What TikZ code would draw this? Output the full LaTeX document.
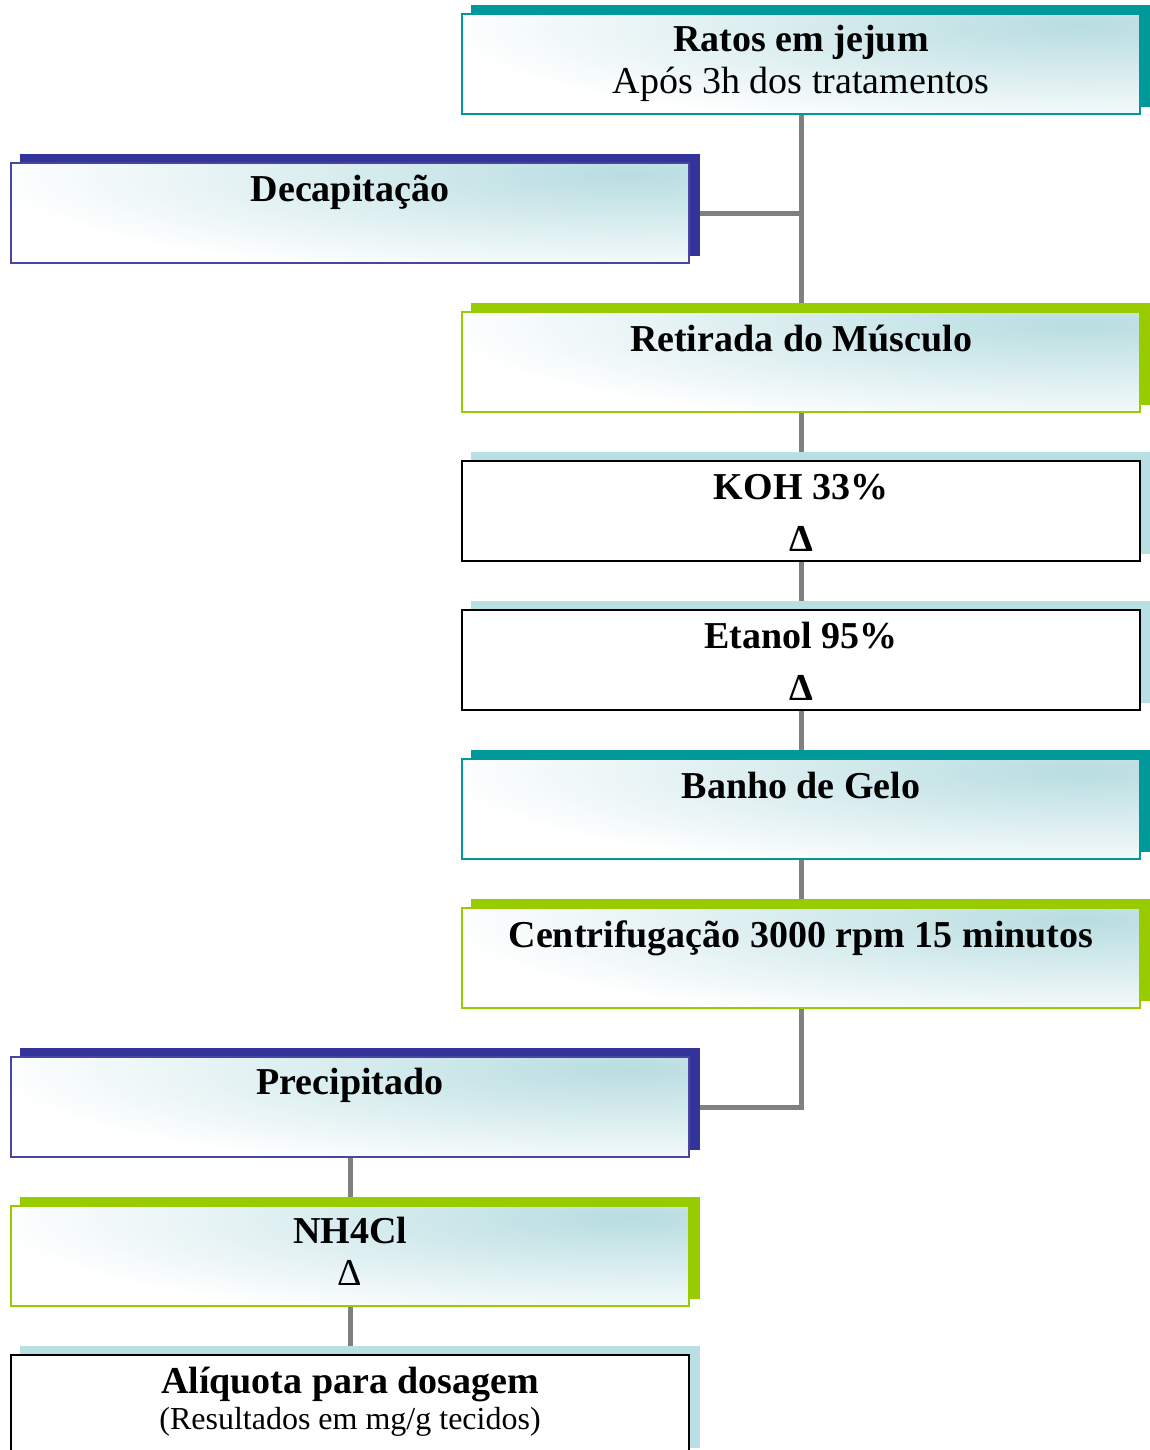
\documentclass[tikz,border=0pt]{standalone}
\usepackage{fontspec}
\setmainfont{Liberation Serif}
\pgfdeclarelayer{bg}
\pgfdeclarelayer{shadowlayer}
\pgfsetlayers{bg,shadowlayer,main}
\definecolor{tealc}{HTML}{009999}
\definecolor{navyc}{HTML}{333399}
\definecolor{greenc}{HTML}{99CC00}
\definecolor{lblue}{HTML}{B8DFE3}
\definecolor{gradc}{HTML}{B8DDE1}
\definecolor{linec}{HTML}{808080}
\tikzset{
  box/.style={minimum width=678pt, minimum height=100pt, inner sep=0pt, line width=1.5pt, fill=white},
  gbox/.style={box, path picture={\shade[inner color=gradc, outer color=white] ([xshift=-60pt,yshift=-12pt]path picture bounding box.north east) ellipse [x radius=640pt, y radius=105pt];}},
  conn/.style={draw=linec, line width=5pt},
  ttl/.style={anchor=base, font=\fontsize{38}{44}\selectfont\bfseries, inner sep=0pt},
  sub/.style={anchor=base, font=\fontsize{38}{44}\selectfont, inner sep=0pt},
  subs/.style={anchor=base, font=\fontsize{32}{36}\selectfont, inner sep=0pt},
}
\newcommand\mkshadow[2]{\fill[#2] ([shift={(10pt,8pt)}]#1.south west) rectangle ([shift={(10pt,8pt)}]#1.north east);}
\begin{document}
\begin{tikzpicture}[x=1pt,y=-1pt]
\useasboundingbox (0,0) rectangle (1149,1450);
% boxes
\node[gbox, draw=tealc]  (ratos)   at (801,64)   {};
\node[gbox, draw=navyc!90] (decap) at (350,213)  {};
\node[gbox, draw=greenc] (retir)   at (801,362)  {};
\node[box,  draw=black]  (koh)     at (801,511)  {};
\node[box,  draw=black]  (etanol)  at (801,660)  {};
\node[gbox, draw=tealc]  (banho)   at (801,809)  {};
\node[gbox, draw=greenc] (centrif) at (801,958)  {};
\node[gbox, draw=navyc!90] (precip) at (350,1107) {};
\node[gbox, draw=greenc] (nh4cl)   at (350,1256) {};
\node[box,  draw=black]  (aliq)    at (350,1405) {};
% shadows
\begin{pgfonlayer}{shadowlayer}
\mkshadow{ratos}{tealc}
\mkshadow{decap}{navyc}
\mkshadow{retir}{greenc}
\mkshadow{koh}{lblue}
\mkshadow{etanol}{lblue}
\mkshadow{banho}{tealc}
\mkshadow{centrif}{greenc}
\mkshadow{precip}{navyc}
\mkshadow{nh4cl}{greenc}
\mkshadow{aliq}{lblue}
\end{pgfonlayer}
% connectors
\begin{pgfonlayer}{bg}
\draw[conn] (ratos.south) -- (retir.north);
\draw[conn] ([xshift=10pt]decap.east) -- (decap.east -| ratos.south);
\draw[conn] (retir.south) -- (koh.north);
\draw[conn] (koh.south) -- (etanol.north);
\draw[conn] (etanol.south) -- (banho.north);
\draw[conn] (banho.south) -- (centrif.north);
\draw[conn] (centrif.south) |- ([xshift=10pt]precip.east);
\draw[conn] (precip.south) -- (nh4cl.north);
\draw[conn] (nh4cl.south) -- (aliq.north);
\end{pgfonlayer}
% texts
\node[ttl] (t1)  at (801,52)   {Ratos em jejum};
\node[sub] (t1b) at (801,94)   {Após 3h dos tratamentos};
\node[ttl] (t2)  at (350,201)  {Decapitação};
\node[ttl] (t3)  at (801,351)  {Retirada do Músculo};
\node[ttl] (t4)  at (801,499)  {KOH 33\%};
\node[ttl] (t4b) at (801,551)  {Δ};
\node[ttl] (t5)  at (801,648)  {Etanol 95\%};
\node[ttl] (t5b) at (801,700)  {Δ};
\node[ttl] (t6)  at (801,798)  {Banho de Gelo};
\node[ttl] (t7)  at (801,947)  {Centrifugação 3000 rpm 15 minutos};
\node[ttl] (t8)  at (350,1094) {Precipitado};
\node[ttl] (t9)  at (350,1243) {NH4Cl};
\node[sub] (t9b) at (350,1285) {Δ};
\node[ttl] (t10) at (350,1393) {Alíquota para dosagem};
\node[subs](t10b) at (350,1429) {(Resultados em mg/g tecidos)};
\end{tikzpicture}
\end{document}
